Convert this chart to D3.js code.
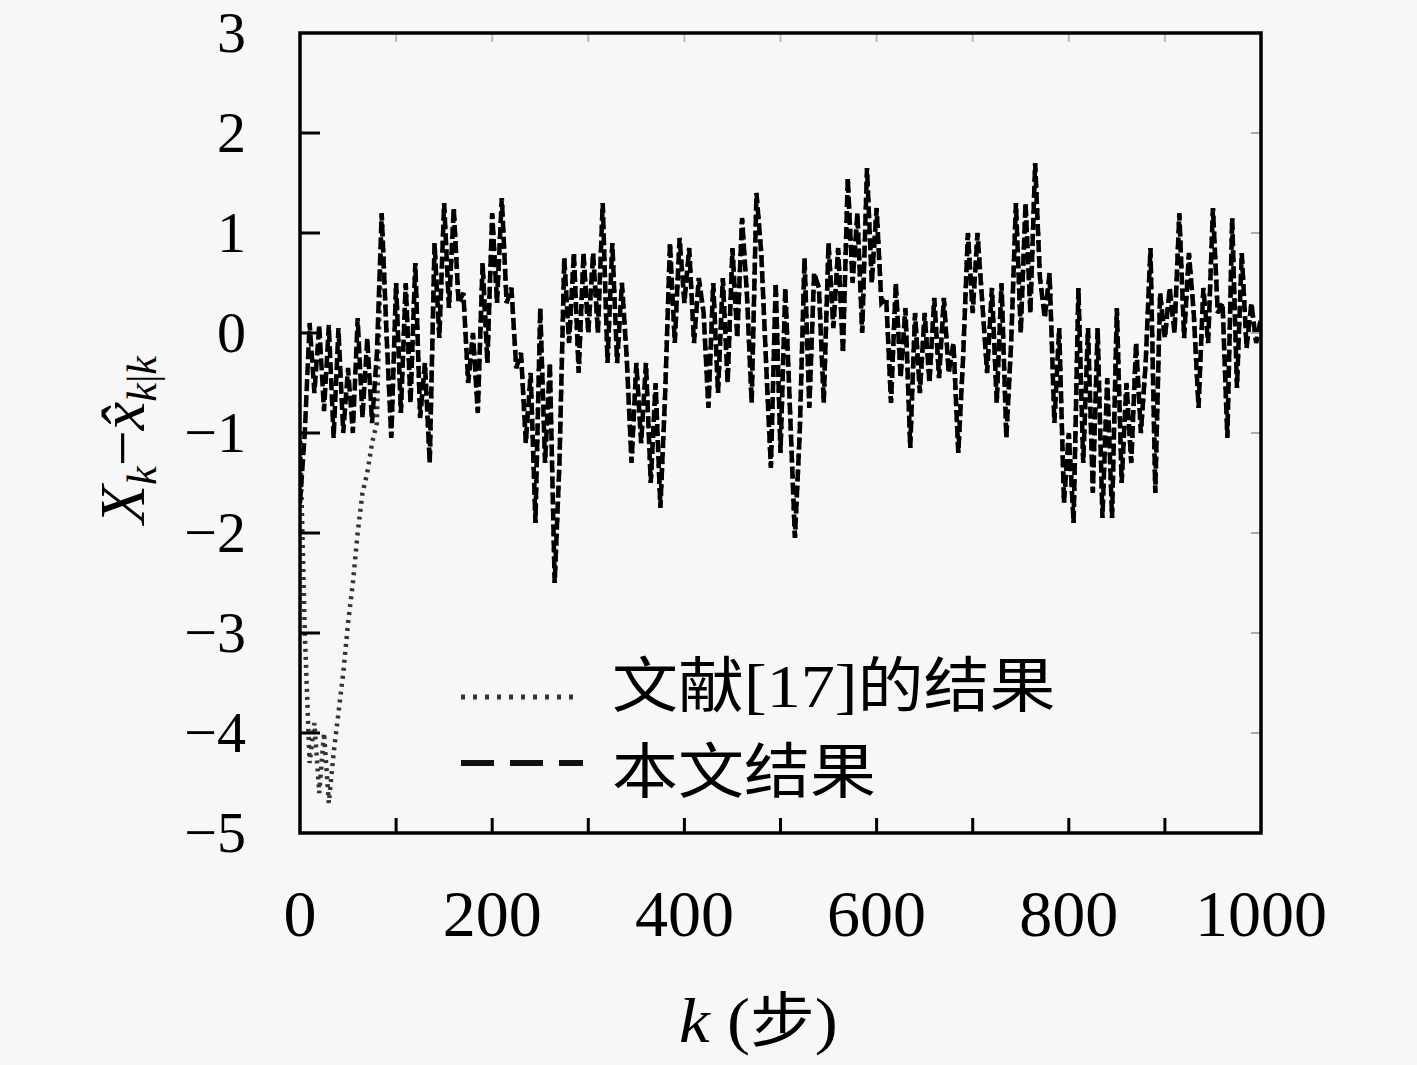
<!DOCTYPE html>
<html>
<head>
<meta charset="utf-8">
<script src="https://cdn.jsdelivr.net/npm/d3@7"></script>
<style>
  html, body { margin: 0; padding: 0; background: #f7f7f7; }
  svg { display: block; }
</style>
</head>
<body>
<svg id="chart" width="1417" height="1065"></svg>
<script>
const kStep = 5;
const xTickValues = [0, 200, 400, 600, 800, 1000];
const yTickValues = [3, 2, 1, 0, -1, -2, -3, -4, -5];
const seriesNames = ["文献[17]的结果", "本文结果"];

// 本文结果 (dashed), k = 0, 5, 10, ..., 1000
const oursValues = [
  -1.7, -1.0, 0.1, -0.6, 0.08, -0.78, 0.08, -1.05, 0.05, -1.0,
  -0.35, -1.0, 0.15, -0.85, -0.05, -0.9, -0.2, 1.2, 0.0, -1.05,
  0.5, -0.8, 0.5, -0.7, 0.7, -0.85, -0.3, -1.3, 0.9, -0.05,
  1.3, 0.25, 1.25, 0.3, 0.4, -0.5, 0.0, -0.8, 0.7, -0.3,
  1.2, 0.3, 1.35, 0.3, 0.45, -0.35, -0.2, -1.1, -0.4, -1.9,
  0.25, -1.3, -0.3, -2.5, -1.3, 0.75, -0.1, 0.8, -0.4, 0.8,
  0.0, 0.8, 0.0, 1.3, -0.3, 0.9, -0.3, 0.5, -0.25, -1.3,
  -0.3, -1.1, -0.3, -1.5, -0.5, -1.75, -0.6, 0.9, -0.1, 0.95,
  0.3, 0.85, -0.1, 0.55, 0.2, -0.75, 0.5, -0.6, 0.55, -0.5,
  0.85, -0.05, 1.15, 0.4, -0.7, 1.4, 0.8, -0.3, -1.35, 0.5,
  -1.2, 0.45, -0.8, -2.05, -1.0, 0.75, -0.75, 0.6, 0.45, -0.7,
  0.9, 0.05, 0.85, -0.2, 1.55, 0.5, 1.2, 0.0, 1.65, 0.5,
  1.25, 0.3, 0.35, -0.7, 0.5, -0.45, 0.25, -1.15, 0.2, -0.6,
  0.2, -0.5, 0.35, -0.45, 0.35, -0.4, -0.1, -1.2, -0.25, 1.0,
  0.2, 1.0, 0.3, -0.4, 0.45, -0.7, 0.5, -1.05, -0.1, 1.3,
  0.0, 1.3, 0.2, 1.7, 0.55, 0.15, 0.6, -0.9, 0.05, -1.7,
  -1.0, -1.9, 0.45, -1.3, 0.05, -1.6, 0.05, -1.85, -0.45, -1.85,
  0.25, -1.5, -0.5, -1.3, -0.1, -1.0, -0.3, 0.85, -1.6, 0.4,
  -0.05, 0.45, 0.0, 1.2, -0.05, 0.8, 0.2, -0.75, 0.45, -0.1,
  1.25, 0.2, 0.3, -1.05, 1.15, -0.55, 0.8, -0.15, 0.3, -0.1,
  0.15
];

// 文献[17] (dotted): its own transient for k = 0..80, then it runs on the same track
const lit17Early = [
  -1.0, -3.0, -4.3, -3.9, -4.6, -4.0, -4.7, -4.2, -3.8,
  -3.4, -2.9, -2.5, -2.0, -1.6, -1.4, -1.1, -0.9
];
const lit17Values = lit17Early.concat(oursValues.slice(lit17Early.length));

(function draw() {
  const svg = d3.select("#chart");
  const pL = 300, pR = 1261, pT = 33, pB = 833;
  const x = d3.scaleLinear().domain([0, 1000]).range([pL, pR]);
  const y = d3.scaleLinear().domain([-5, 3]).range([pB, pT]);
  const serif = "'Liberation Serif', 'Times New Roman', serif";
  const cjk = "'Noto Sans CJK SC', sans-serif";

  const toPts = vals => vals.map((v, i) => [i * kStep, v]);
  const line = d3.line().x(d => x(d[0])).y(d => y(d[1]));

  svg.append("clipPath").attr("id", "clip")
    .append("rect").attr("x", pL).attr("y", pT).attr("width", pR - pL).attr("height", pB - pT);

  const g = svg.append("g").attr("clip-path", "url(#clip)");
  g.append("path").datum(toPts(lit17Values))
    .attr("d", line).attr("fill", "none")
    .attr("stroke", "#333").attr("stroke-width", 4.5)
    .attr("stroke-dasharray", "3,5");
  g.append("path").datum(toPts(oursValues))
    .attr("d", line).attr("fill", "none")
    .attr("stroke", "#000").attr("stroke-width", 4.5)
    .attr("stroke-dasharray", "12,4");

  // ticks
  const innerY = yTickValues.filter(v => v > -5 && v < 3);
  const innerX = d3.range(100, 1000, 100);
  svg.append("g").selectAll("line").data(innerY).join("line")
    .attr("x1", pL).attr("x2", pL + 20).attr("y1", d => y(d)).attr("y2", d => y(d))
    .attr("stroke", "#000").attr("stroke-width", 3);
  svg.append("g").selectAll("line").data(innerY).join("line")
    .attr("x1", pR - 10).attr("x2", pR).attr("y1", d => y(d)).attr("y2", d => y(d))
    .attr("stroke", "#aaa").attr("stroke-width", 2);
  svg.append("g").selectAll("line").data(innerX).join("line")
    .attr("x1", d => x(d)).attr("x2", d => x(d)).attr("y1", pB).attr("y2", pB - 15)
    .attr("stroke", "#000").attr("stroke-width", 3);
  svg.append("g").selectAll("line").data(innerX).join("line")
    .attr("x1", d => x(d)).attr("x2", d => x(d)).attr("y1", pT).attr("y2", pT + 9)
    .attr("stroke", "#bbb").attr("stroke-width", 2);

  // frame
  svg.append("rect").attr("x", pL).attr("y", pT)
    .attr("width", pR - pL).attr("height", pB - pT)
    .attr("fill", "none").attr("stroke", "#000").attr("stroke-width", 3.5);

  // tick labels
  const fmt = d3.format("d");
  svg.append("g").selectAll("text").data(yTickValues).join("text")
    .attr("x", 246).attr("y", d => y(d) + 19)
    .attr("text-anchor", "end").attr("font-family", serif).attr("font-size", 58)
    .text(d => fmt(d));
  svg.append("g").selectAll("text").data(xTickValues).join("text")
    .attr("x", d => x(d)).attr("y", 936)
    .attr("text-anchor", "middle").attr("font-family", serif).attr("font-size", 66)
    .text(d => fmt(d));

  // x title
  const xt = svg.append("text").attr("transform", "translate(679,1042) scale(1.08,1)")
    .attr("font-family", serif).attr("font-size", 64);
  xt.append("tspan").attr("font-style", "italic").text("k");
  xt.append("tspan").text(" (");
  xt.append("tspan").attr("font-family", cjk).attr("font-size", 60).text("步");
  xt.append("tspan").text(")");

  // y title (rotated)
  const yt = svg.append("text")
    .attr("transform", "translate(144,440) rotate(-90)")
    .attr("text-anchor", "middle").attr("font-family", serif).attr("font-size", 64);
  yt.append("tspan").attr("font-style", "italic").text("X");
  yt.append("tspan").attr("font-style", "italic").attr("font-size", 42).attr("dy", 12).text("k");
  yt.append("tspan").attr("dy", -12).text("−");
  yt.append("tspan").attr("font-style", "italic").text("x\u0302");
  yt.append("tspan").attr("font-size", 42).attr("dy", 12).attr("font-style", "italic").text("k");
  yt.append("tspan").attr("font-size", 42).text("|");
  yt.append("tspan").attr("font-size", 42).attr("font-style", "italic").text("k");

  // legend
  const legendRows = [
    { name: seriesNames[0], dash: "4,8", color: "#333", width: 5, ly: 697, ty: 707, x2: 578 },
    { name: seriesNames[1], dash: "33,16", color: "#111", width: 6, ly: 763, ty: 793, x2: 583 }
  ];
  legendRows.forEach(r => {
    svg.append("line").attr("x1", 461).attr("x2", r.x2).attr("y1", r.ly).attr("y2", r.ly)
      .attr("stroke", r.color).attr("stroke-width", r.width).attr("stroke-dasharray", r.dash);
    const t = svg.append("text").attr("transform", `translate(612,${r.ty}) scale(1.1,1)`)
      .attr("font-size", 60).attr("font-family", cjk);
    const m = r.name.match(/^(.*?)(\[\d+\])(.*)$/);
    if (m) {
      t.append("tspan").text(m[1]);
      t.append("tspan").attr("font-family", serif).attr("font-size", 62).text(m[2]);
      t.append("tspan").text(m[3]);
    } else {
      t.text(r.name);
    }
  });
})();
</script>
</body>
</html>
